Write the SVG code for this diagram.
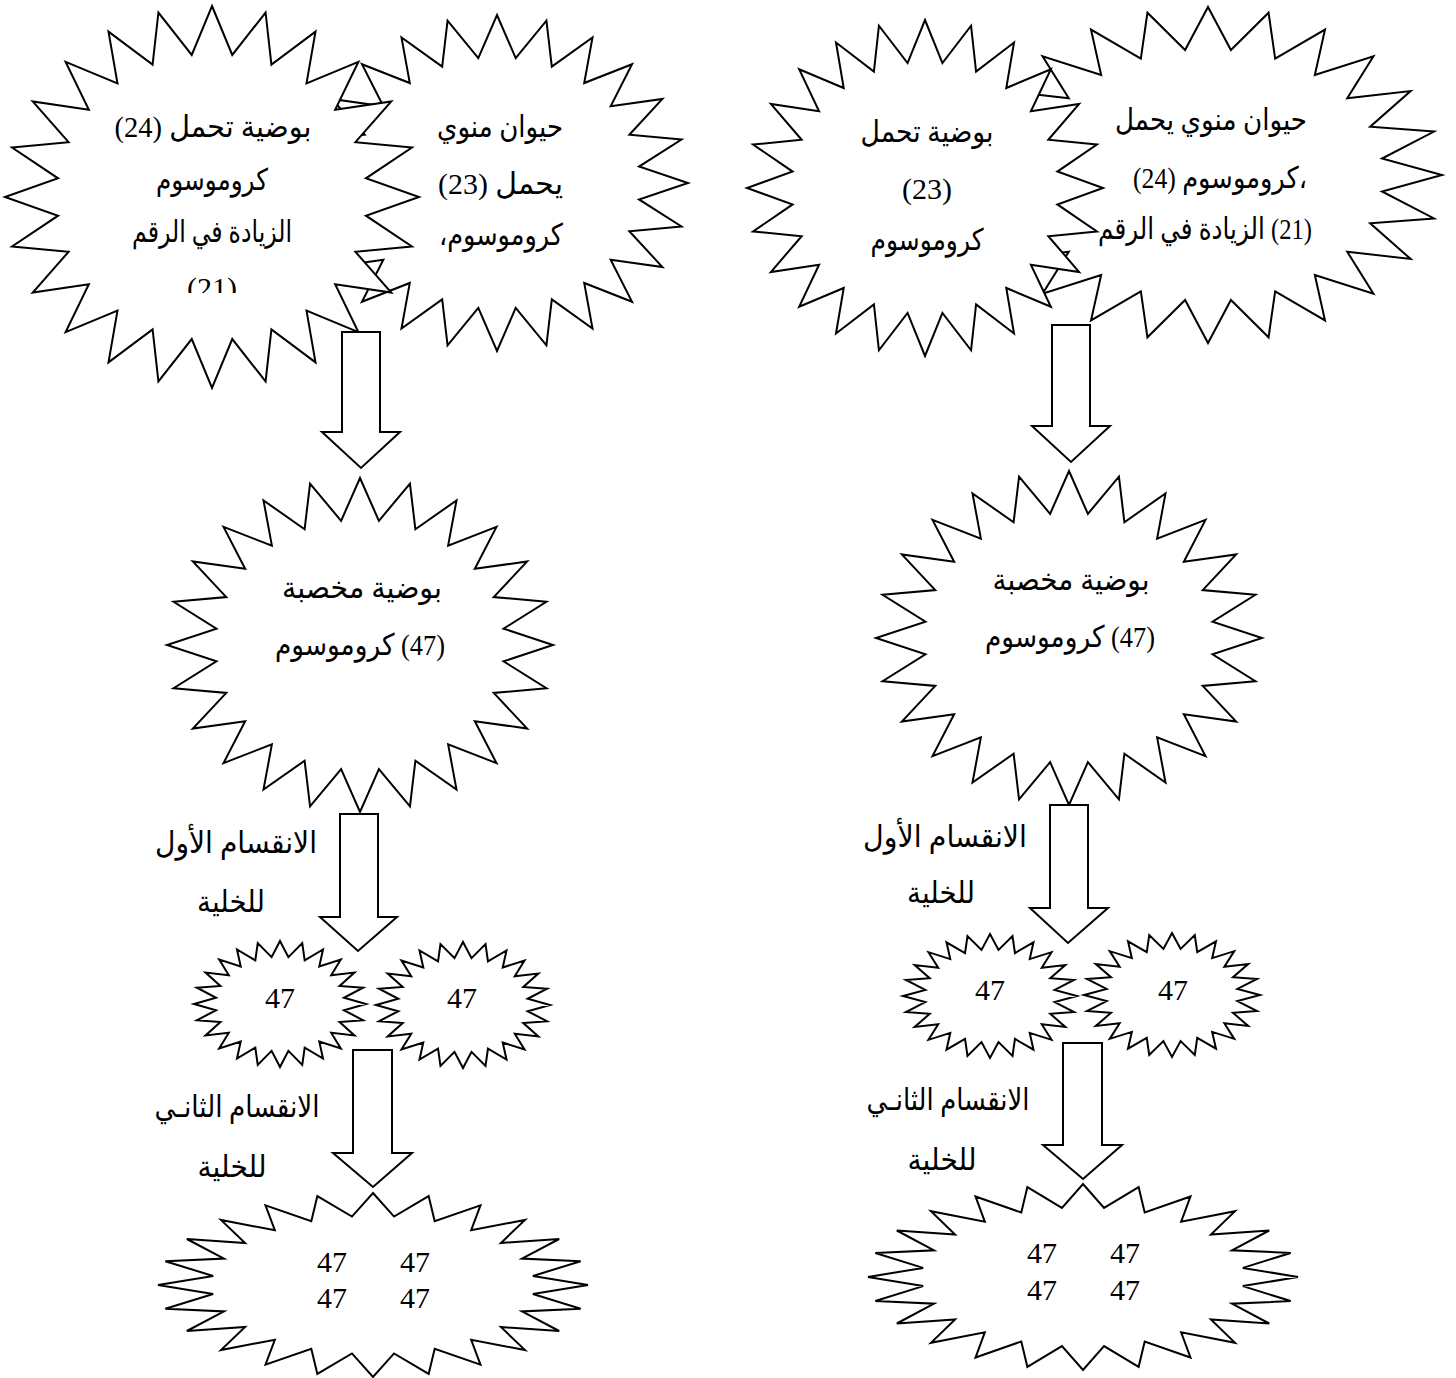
<svg xmlns="http://www.w3.org/2000/svg" xmlns:xlink="http://www.w3.org/1999/xlink" width="1456" height="1378" viewBox="0 0 1456 1378">
  <style>
    .star { fill: #ffffff; stroke: #000000; stroke-width: 2; stroke-linejoin: miter; }
    .arrow { fill: #ffffff; stroke: #000000; stroke-width: 2; stroke-linejoin: miter; }
    text { font-family: "Liberation Serif", "DejaVu Sans", serif; font-size: 30px; fill: #000000; }
    .c { text-anchor: middle; }
    .rtl { direction: rtl; unicode-bidi: embed; }
  </style>
  <defs>
    <!-- 24-point star, outer radius 100, inner radius 75, first tip straight up -->
    <polygon id="star24" vector-effect="non-scaling-stroke" points="0,-100 9.79,-74.36 25.88,-96.59 28.70,-69.29 50,-86.60 45.66,-59.50 70.71,-70.71 59.50,-45.66 86.60,-50 69.29,-28.70 96.59,-25.88 74.36,-9.79 100,0 74.36,9.79 96.59,25.88 69.29,28.70 86.60,50 59.50,45.66 70.71,70.71 45.66,59.50 50,86.60 28.70,69.29 25.88,96.59 9.79,74.36 0,100 -9.79,74.36 -25.88,96.59 -28.70,69.29 -50,86.60 -45.66,59.50 -70.71,70.71 -59.50,45.66 -86.60,50 -69.29,28.70 -96.59,25.88 -74.36,9.79 -100,0 -74.36,-9.79 -96.59,-25.88 -69.29,-28.70 -86.60,-50 -59.50,-45.66 -70.71,-70.71 -45.66,-59.50 -50,-86.60 -28.70,-69.29 -25.88,-96.59 -9.79,-74.36"/>
    <clipPath id="clipA">
      <rect x="90" y="100" width="250" height="193"/>
    </clipPath>
  </defs>

  <!-- left column: zygote from sperm with 23 and egg with 24 -->
  <g id="sperm-left">
    <use xlink:href="#star24" class="star" transform="translate(497,183) scale(1.91,1.68)"/>
    <text class="rtl" x="563" y="137" text-anchor="start" textLength="126" lengthAdjust="spacingAndGlyphs">حيوان منوي</text>
    <text class="rtl" x="563" y="194" text-anchor="start" textLength="125" lengthAdjust="spacingAndGlyphs">يحمل (23)</text>
    <text class="rtl" x="563" y="245" text-anchor="start" textLength="124" lengthAdjust="spacingAndGlyphs">كروموسوم،</text>
  </g>
  <g id="egg-left">
    <use xlink:href="#star24" class="star" transform="translate(212,197) scale(2.07,1.91)"/>
    <g clip-path="url(#clipA)">
      <text class="c rtl" x="213" y="137" textLength="197" lengthAdjust="spacingAndGlyphs">بوضية تحمل (24)</text>
      <text class="c rtl" x="212" y="190" textLength="112" lengthAdjust="spacingAndGlyphs">كروموسوم</text>
      <text class="c rtl" x="212" y="242" textLength="160" lengthAdjust="spacingAndGlyphs">الزيادة في الرقم</text>
      <text class="c rtl" x="212" y="298">(21)</text>
    </g>
  </g>
  <g id="zygote-left">
    <use xlink:href="#star24" class="star" transform="translate(360,645) scale(1.93,1.67)"/>
    <text class="c rtl" x="362" y="598" textLength="160" lengthAdjust="spacingAndGlyphs">بوضية مخصبة</text>
    <text class="c rtl" x="360" y="655" textLength="170" lengthAdjust="spacingAndGlyphs">(47) كروموسوم</text>
  </g>
  <g id="cell-left-1">
    <use xlink:href="#star24" class="star" transform="translate(280,1004) scale(0.86,0.63)"/>
    <text class="c" x="280" y="1008">47</text>
  </g>
  <g id="cell-left-2">
    <use xlink:href="#star24" class="star" transform="translate(463,1005) scale(0.87,0.63)"/>
    <text class="c" x="462" y="1008">47</text>
  </g>
  <g id="cells-left-4">
    <use xlink:href="#star24" class="star" transform="translate(373,1285) scale(2.15,0.92)"/>
    <text class="c" x="332" y="1272">47</text>
    <text class="c" x="415" y="1272">47</text>
    <text class="c" x="332" y="1308">47</text>
    <text class="c" x="415" y="1308">47</text>
  </g>

  <!-- right column: zygote from sperm with 24 and egg with 23 -->
  <g id="sperm-right">
    <use xlink:href="#star24" class="star" transform="translate(1208,175) scale(2.34,1.68)"/>
  </g>
  <g id="egg-right">
    <use xlink:href="#star24" class="star" transform="translate(925,188) scale(1.78,1.68)"/>
    <text class="c rtl" x="927" y="142" textLength="133" lengthAdjust="spacingAndGlyphs">بوضية تحمل</text>
    <text class="c rtl" x="927" y="199">(23)</text>
    <text class="c rtl" x="927" y="250" textLength="113" lengthAdjust="spacingAndGlyphs">كروموسوم</text>
  </g>
  <!-- sperm-right caption sits above the overlapping egg outline -->
  <g id="sperm-right-label">
    <text x="1307" y="130" text-anchor="end" textLength="192" lengthAdjust="spacingAndGlyphs">حيوان منوي يحمل</text>
    <text x="1307" y="188" text-anchor="end" textLength="174" lengthAdjust="spacingAndGlyphs">(24) كروموسوم،</text>
    <text x="1312" y="239" text-anchor="end" textLength="214" lengthAdjust="spacingAndGlyphs">الزيادة في الرقم &#x200E;(21)</text>
  </g>
  <g id="zygote-right">
    <use xlink:href="#star24" class="star" transform="translate(1069,638) scale(1.93,1.67)"/>
    <text class="c rtl" x="1071" y="590" textLength="157" lengthAdjust="spacingAndGlyphs">بوضية مخصبة</text>
    <text class="c rtl" x="1070" y="647" textLength="170" lengthAdjust="spacingAndGlyphs">(47) كروموسوم</text>
  </g>
  <g id="cell-right-1">
    <use xlink:href="#star24" class="star" transform="translate(990,996) scale(0.87,0.62)"/>
    <text class="c" x="990" y="1000">47</text>
  </g>
  <g id="cell-right-2">
    <use xlink:href="#star24" class="star" transform="translate(1172,995) scale(0.88,0.62)"/>
    <text class="c" x="1173" y="1000">47</text>
  </g>
  <g id="cells-right-4">
    <use xlink:href="#star24" class="star" transform="translate(1083,1277) scale(2.15,0.93)"/>
    <text class="c" x="1042" y="1263">47</text>
    <text class="c" x="1125" y="1263">47</text>
    <text class="c" x="1042" y="1300">47</text>
    <text class="c" x="1125" y="1300">47</text>
  </g>

  <!-- step labels -->
  <g id="labels">
    <text class="c rtl" x="236" y="853" textLength="162" lengthAdjust="spacingAndGlyphs">الانقسام الأول</text>
    <text class="c rtl" x="231" y="912" textLength="68" lengthAdjust="spacingAndGlyphs">للخلية</text>
    <text class="c rtl" x="237" y="1117" textLength="165" lengthAdjust="spacingAndGlyphs">الانقسام الثانـي</text>
    <text class="c rtl" x="232" y="1177" textLength="69" lengthAdjust="spacingAndGlyphs">للخلية</text>
    <text class="c rtl" x="945" y="847" textLength="164" lengthAdjust="spacingAndGlyphs">الانقسام الأول</text>
    <text class="c rtl" x="941" y="903" textLength="68" lengthAdjust="spacingAndGlyphs">للخلية</text>
    <text class="c rtl" x="948" y="1110" textLength="163" lengthAdjust="spacingAndGlyphs">الانقسام الثانـي</text>
    <text class="c rtl" x="942" y="1170" textLength="69" lengthAdjust="spacingAndGlyphs">للخلية</text>
  </g>

  <!-- block arrows between stages -->
  <g id="connectors">
    <polygon class="arrow" points="342,332 380,332 380,432 400,432 361,468 322,432 342,432"/>
    <polygon class="arrow" points="340,814 378,814 378,917 397,917 358,951 320,917 340,917"/>
    <polygon class="arrow" points="353,1050 392,1050 392,1153 412,1153 373,1187 333,1153 353,1153"/>
    <polygon class="arrow" points="1052,325 1090,325 1090,426 1110,426 1071,462 1032,426 1052,426"/>
    <polygon class="arrow" points="1050,805 1088,805 1088,908 1108,908 1068,943 1030,908 1050,908"/>
    <polygon class="arrow" points="1063,1043 1102,1043 1102,1145 1122,1145 1083,1179 1043,1145 1063,1145"/>
  </g>
</svg>
